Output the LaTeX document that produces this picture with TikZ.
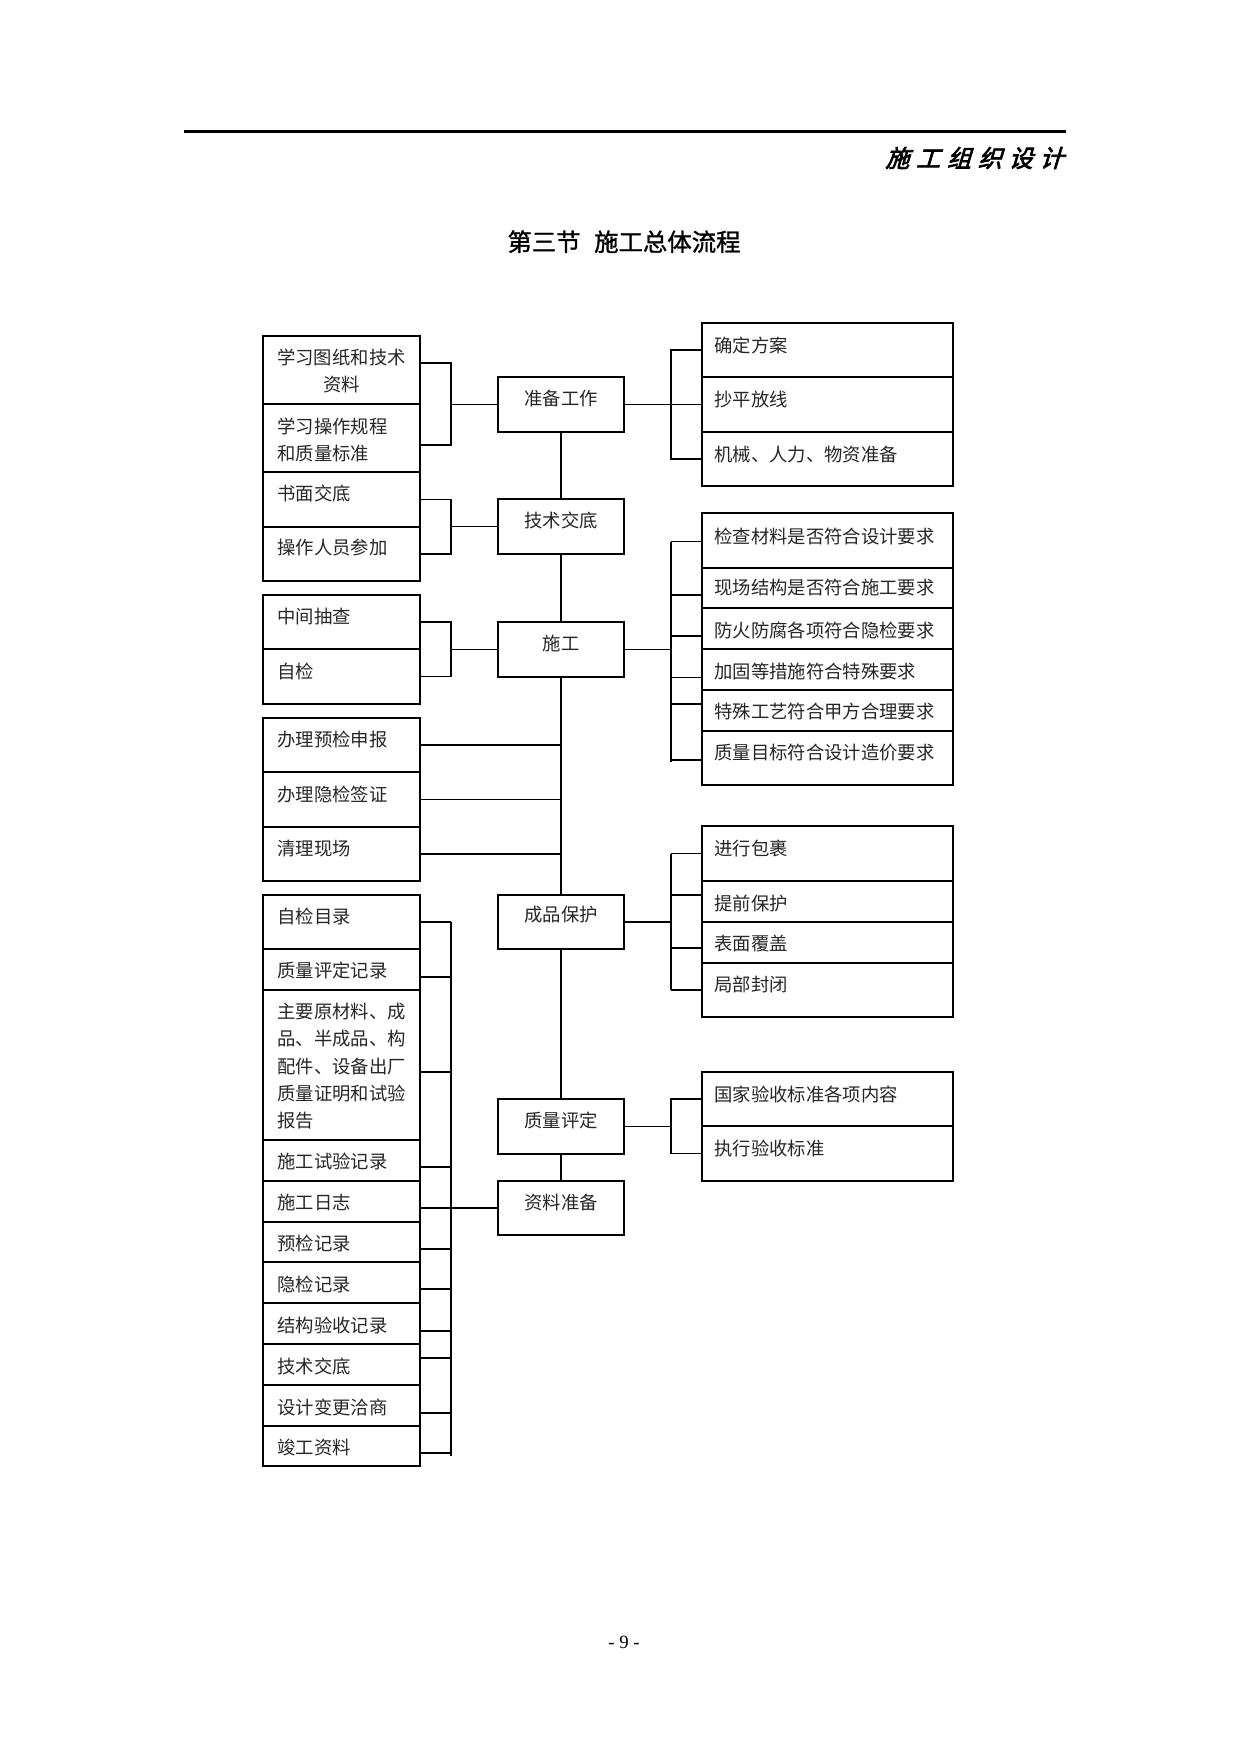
\documentclass[tikz,border=0pt]{standalone}
\usepackage{fontspec}
\usetikzlibrary{fit}
\newfontfamily\cjk{Noto Sans CJK SC}
\newfontfamily\cjktitle[FakeBold=1.2]{Noto Sans CJK SC}
\newfontfamily\cjkhead[FakeSlant=0.3,FakeBold=3]{Noto Sans CJK SC}
\newfontfamily\pnum{Liberation Serif}
\newcommand\bbox[5]{\node[bx, fit={(#2,#3) (#4,#5)}] (#1) {};}
\newcommand\hs{\hspace{3.3pt}}
\begin{document}
\begin{tikzpicture}[x=0.4797pt,y=-0.4797pt,
  bx/.style={draw=black, line width=0.6pt, inner sep=0pt},
  ln/.style={draw=black, line width=0.6pt},
  tx/.style={inner sep=0pt, font=\cjk\fontsize{8.8}{13.1}\selectfont, text=black!85},
  tl/.style={tx, anchor=west, align=left},
  tm/.style={tx, anchor=center, align=center}]
\fill[white] (0,0) rectangle (1241,1754);
\useasboundingbox (0,0) rectangle (1241,1754);

% header
\draw[line width=1pt] (184,131.5) -- (1066,131.5);
\node[inner sep=0pt, font=\cjkhead\fontsize{11.5}{12}\selectfont, anchor=east] (hdr) at (1064,158) {施\hs 工\hs 组\hs 织\hs 设\hs 计};
\node[inner sep=0pt, font=\cjktitle\fontsize{11.7}{13}\selectfont] (title) at (624,241.7) {第三节\hspace{6.5pt}施工总体流程};
\node[inner sep=0pt, font=\pnum\fontsize{9}{10}\selectfont] (pg) at (624,1642) {- 9 -};

% left boxes
\bbox{a1}{263}{336}{420}{404}
\bbox{a2}{263}{404}{420}{472}
\bbox{a3}{263}{472}{420}{527}
\bbox{a4}{263}{527}{420}{581}
\bbox{a5}{263}{595}{420}{649}
\bbox{a6}{263}{649}{420}{704}
\bbox{a7}{263}{718}{420}{772}
\bbox{a8}{263}{772}{420}{827}
\bbox{a9}{263}{827}{420}{881}
\bbox{a10}{263}{895}{420}{949}
\bbox{a11}{263}{949}{420}{990}
\bbox{a12}{263}{990}{420}{1140}
\bbox{a13}{263}{1140}{420}{1181}
\bbox{a14}{263}{1181}{420}{1222}
\bbox{a15}{263}{1222}{420}{1262}
\bbox{a16}{263}{1262}{420}{1303}
\bbox{a17}{263}{1303}{420}{1344}
\bbox{a18}{263}{1344}{420}{1385}
\bbox{a19}{263}{1385}{420}{1426}
\bbox{a20}{263}{1426}{420}{1466}

\node[tm] (ta1) at (341.5,371.3) {学习图纸和技术\\资料};
\node[tl] (ta2) at (277,439.7) {学习操作规程\\和质量标准};
\node[tl] (ta3) at (277,493) {书面交底};
\node[tl] (ta4) at (277,548) {操作人员参加};
\node[tl] (ta5) at (277,616.5) {中间抽查};
\node[tl] (ta6) at (277,671.5) {自检};
\node[tl] (ta7) at (277,739.3) {办理预检申报};
\node[tl] (ta8) at (277,794) {办理隐检签证};
\node[tl] (ta9) at (277,848.3) {清理现场};
\node[tl] (ta10) at (277,916) {自检目录};
\node[tl] (ta11) at (277,970) {质量评定记录};
\node[tl] (ta12) at (277,1066.2) {主要原材料、成\\品、半成品、构\\配件、设备出厂\\质量证明和试验\\报告};
\node[tl] (ta13) at (277,1161.7) {施工试验记录};
\node[tl] (ta14) at (277,1202.3) {施工日志};
\node[tl] (ta15) at (277,1243.3) {预检记录};
\node[tl] (ta16) at (277,1284) {隐检记录};
\node[tl] (ta17) at (277,1325) {结构验收记录};
\node[tl] (ta18) at (277,1366.7) {技术交底};
\node[tl] (ta19) at (277,1407.7) {设计变更洽商};
\node[tl] (ta20) at (277,1447.7) {竣工资料};

% centre boxes
\bbox{c1}{498}{377}{624}{432}
\bbox{c2}{498}{499}{624}{554}
\bbox{c3}{498}{622}{624}{677}
\bbox{c4}{498}{895}{624}{949}
\bbox{c5}{498}{1099}{624}{1154}
\bbox{c6}{498}{1181}{624}{1235}
\node[tm] (tc1) at (561,398) {准备工作};
\node[tm] (tc2) at (561,520.7) {技术交底};
\node[tm] (tc3) at (561,643.3) {施工};
\node[tm] (tc4) at (561,915) {成品保护};
\node[tm] (tc5) at (561,1120) {质量评定};
\node[tm] (tc6) at (561,1202.3) {资料准备};

% right boxes
\bbox{r1}{702}{323}{953}{377}
\bbox{r2}{702}{377}{953}{432}
\bbox{r3}{702}{432}{953}{486}
\bbox{r4}{702}{513}{953}{568}
\bbox{r5}{702}{568}{953}{608}
\bbox{r6}{702}{608}{953}{649}
\bbox{r7}{702}{649}{953}{690}
\bbox{r8}{702}{690}{953}{731}
\bbox{r9}{702}{731}{953}{785}
\bbox{r10}{702}{826}{953}{881}
\bbox{r11}{702}{881}{953}{922}
\bbox{r12}{702}{922}{953}{963}
\bbox{r13}{702}{963}{953}{1017}
\bbox{r14}{702}{1072}{953}{1126}
\bbox{r15}{702}{1126}{953}{1181}
\node[tl] (tr1) at (714,345) {确定方案};
\node[tl] (tr2) at (714,400) {抄平放线};
\node[tl] (tr3) at (714,455) {机械、人力、物资准备};
\node[tl] (tr4) at (714,536.7) {检查材料是否符合设计要求};
\node[tl] (tr5) at (714,588) {现场结构是否符合施工要求};
\node[tl] (tr6) at (714,630.7) {防火防腐各项符合隐检要求};
\node[tl] (tr7) at (714,671.7) {加固等措施符合特殊要求};
\node[tl] (tr8) at (714,711.7) {特殊工艺符合甲方合理要求};
\node[tl] (tr9) at (714,753) {质量目标符合设计造价要求};
\node[tl] (tr10) at (714,848.3) {进行包裹};
\node[tl] (tr11) at (714,903) {提前保护};
\node[tl] (tr12) at (714,944) {表面覆盖};
\node[tl] (tr13) at (714,984) {局部封闭};
\node[tl] (tr14) at (714,1094.3) {国家验收标准各项内容};
\node[tl] (tr15) at (714,1148.3) {执行验收标准};

% bracket columns
\coordinate (kx) at (451,0);
\coordinate (mx) at (671,0);

% central spine
\draw[ln] (c1.south) -- (c2.north);
\draw[ln] (c2.south) -- (c3.north);
\draw[ln] (c3.south) -- (c4.north);
\draw[ln] (c4.south) -- (c5.north);
\draw[ln] (c5.south) -- (c6.north);

% left group 1
\coordinate (k1) at (451,363);
\coordinate (k2) at (451,445);
\draw[ln] (a1.east |- k1) -- (k1) -- (k2) -- (a2.east |- k2);
\draw[ln] (c1.west) -- (c1.west -| kx);
% left group 2
\draw[ln] (a3.east) -- (a3.east -| kx) -- (a4.east -| kx) -- (a4.east);
\draw[ln] (c2.west) -- (c2.west -| kx);
% left group 3
\draw[ln] (a5.east) -- (a5.east -| kx) -- (a6.east -| kx) -- (a6.east);
\draw[ln] (c3.west) -- (c3.west -| kx);
% left group 4
\draw[ln] (a7.east) -- (a7.east -| c3.south);
\draw[ln] (a8.east) -- (a8.east -| c3.south);
\draw[ln] (a9.east) -- (a9.east -| c3.south);
% left group 5
\foreach \n/\yy in {a10/922, a11/977, a12/1072, a13/1167, a14/1208, a15/1249, a16/1289, a17/1331, a18/1358, a19/1413, a20/1453}{
  \coordinate (k\n) at (451,\yy);
  \draw[ln] (\n.east |- k\n) -- (k\n);
}
\coordinate (kend) at (451,1456);
\draw[ln] (ka10) -- (kend);
\draw[ln] (c6.west) -- (c6.west -| kx);

% right group 1
\draw[ln] (r1.west) -- (r1.west -| mx) -- (r3.west -| mx) -- (r3.west);
\draw[ln] (c1.east) -- (r2.west);
% right group 2
\foreach \n/\yy in {r4/541.7, r5/595, r6/636, r7/677.3, r8/704, r9/760}{
  \coordinate (m\n) at (671,\yy);
  \draw[ln] (m\n) -- (\n.west |- m\n);
}
\coordinate (mend) at (671,762);
\draw[ln] (mr4) -- (mend);
\draw[ln] (c3.east) -- (c3.east -| mx);
% right group 3
\foreach \n/\yy in {r10/853.5, r11/895, r12/948, r13/990}{
  \coordinate (m\n) at (671,\yy);
  \draw[ln] (m\n) -- (\n.west |- m\n);
}
\draw[ln] (mr10) -- (mr13);
\draw[ln] (c4.east) -- (c4.east -| mx);
% right group 4
\draw[ln] (r14.west) -- (r14.west -| mx) -- (r15.west -| mx) -- (r15.west);
\draw[ln] (c5.east) -- (c5.east -| mx);
\end{tikzpicture}
\end{document}
